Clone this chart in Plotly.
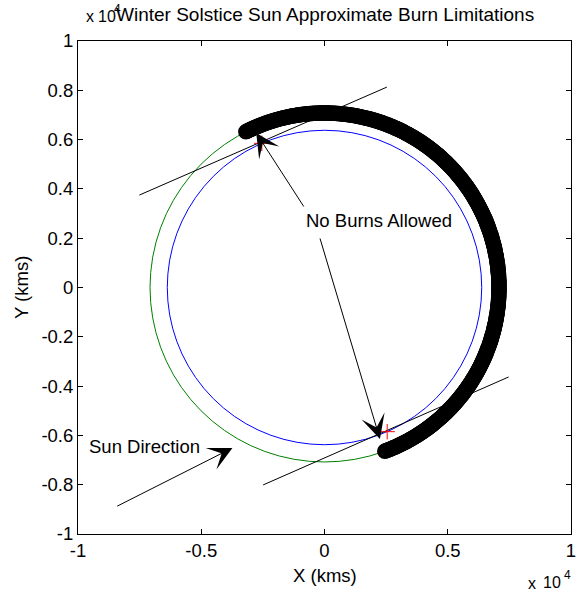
import numpy as np
import plotly.graph_objects as go

# ---- data (km) ----
earth_radius = 6378.0
orbit_radius = 7078.0
sun_angle_deg = 23.5
burn_half_span_deg = 93.3
circle_points = 73

# tangent lines parallel to the sun direction (endpoints)
tan1_x = [-7510, 2530]
tan1_y = [3750, 8130]
tan2_x = [-2490, 7470]
tan2_y = [-8010, -3630]

# tangent points (red +)
tangent_x = [-2543, 2543]
tangent_y = [5849, -5849]

# arrows: (tail_x, tail_y, head_x, head_y)
arrow_tail_x = [-803, -200, -8470]
arrow_tail_y = [3225, 2050, -8900]
arrow_head_x = [-2770, 2249, -3735]
arrow_head_y = [6270, -6146, -6510]

# text labels
label_text = ["No Burns Allowed", "Sun Direction"]
label_x = [2210, -7310]
label_y = [2700, -6470]

x_tickvals = [-10000, -5000, 0, 5000, 10000]
x_ticktext = ["-1", "-0.5", "0", "0.5", "1"]
y_tickvals = [10000, 8000, 6000, 4000, 2000, 0, -2000, -4000, -6000, -8000, -10000]
y_ticktext = ["1", "0.8", "0.6", "0.4", "0.2", "0", "-0.2", "-0.4", "-0.6", "-0.8", "-1"]

# ---- geometry ----
th = np.linspace(0, 2 * np.pi, circle_points)
earth_x = earth_radius * np.cos(th)
earth_y = earth_radius * np.sin(th)
orbit_x = orbit_radius * np.cos(th)
orbit_y = orbit_radius * np.sin(th)

arc_th = np.deg2rad(np.linspace(sun_angle_deg + burn_half_span_deg,
                                sun_angle_deg - burn_half_span_deg, 500))
arc_x = orbit_radius * np.cos(arc_th)
arc_y = orbit_radius * np.sin(arc_th)

FONT = "Liberation Sans, Arial, sans-serif"
FS = 18.5

fig = go.Figure()
fig.add_trace(go.Scatter(x=earth_x, y=earth_y, mode="lines",
                         line=dict(color="#0000ff", width=1), hoverinfo="skip"))
fig.add_trace(go.Scatter(x=orbit_x, y=orbit_y, mode="lines",
                         line=dict(color="#008000", width=1), hoverinfo="skip"))
fig.add_trace(go.Scatter(x=arc_x, y=arc_y, mode="markers",
                         marker=dict(symbol="circle-open", size=12, color="black",
                                     line=dict(width=3.5, color="black")),
                         hoverinfo="skip"))
fig.add_trace(go.Scatter(x=tan1_x, y=tan1_y, mode="lines",
                         line=dict(color="black", width=1), hoverinfo="skip"))
fig.add_trace(go.Scatter(x=tan2_x, y=tan2_y, mode="lines",
                         line=dict(color="black", width=1), hoverinfo="skip"))
fig.add_trace(go.Scatter(x=tangent_x, y=tangent_y, mode="markers",
                         marker=dict(symbol="cross-thin", size=11,
                                     line=dict(width=1, color="red"), color="red"),
                         hoverinfo="skip"))

annotations = []
for tx, ty, hx, hy in zip(arrow_tail_x, arrow_tail_y, arrow_head_x, arrow_head_y):
    annotations.append(dict(x=hx, y=hy, ax=tx, ay=ty, xref="x", yref="y",
                            axref="x", ayref="y", text="", showarrow=True,
                            arrowhead=3, arrowsize=4, arrowwidth=1,
                            arrowcolor="black", standoff=0, startstandoff=0))
for t, x, y in zip(label_text, label_x, label_y):
    annotations.append(dict(x=x, y=y, xref="x", yref="y", text=t, showarrow=False,
                            font=dict(family=FONT, size=FS, color="black"),
                            xanchor="center", yanchor="middle"))


def ptxt(text, px, py, size, anchor="center", angle=0):
    # place text at pixel position (px, py) of the 582x594 canvas
    return dict(text=text, x=(px - 78) / 498.0, y=(534 - py) / 493.0,
                xref="paper", yref="paper", showarrow=False, xanchor=anchor,
                yanchor="middle", textangle=angle, borderpad=0,
                font=dict(family=FONT, size=size, color="black"))


annotations += [
    ptxt("x", 90, 17, 16),
    ptxt("10", 107.5, 16, 16),
    ptxt("4", 118, 9, 12),
    ptxt("Winter Solstice Sun Approximate Burn Limitations", 327, 15, 19),
    ptxt("x", 537, 583, 16),
    ptxt("10", 557, 582, 16),
    ptxt("4", 572, 575, 12),
    ptxt("X (kms)", 327, 575, FS),
    ptxt("Y (kms)", 21, 287.5, FS, "center", -90),
]

axis_common = dict(showgrid=False, zeroline=False, showline=True, linecolor="black",
                   linewidth=1, mirror="ticks", ticks="inside", ticklen=5,
                   tickcolor="black", tickwidth=1,
                   tickfont=dict(family=FONT, size=FS, color="black"))

fig.update_layout(
    width=582, height=594,
    margin=dict(l=78, r=6, t=41, b=60),
    paper_bgcolor="white", plot_bgcolor="white",
    showlegend=False,
    xaxis=dict(range=[-10000, 10000], tickvals=x_tickvals, ticktext=x_ticktext, **axis_common),
    yaxis=dict(range=[-10000, 10000], tickvals=y_tickvals, ticktext=y_ticktext, **axis_common),
    annotations=annotations,
)

fig.write_html("out.html")
